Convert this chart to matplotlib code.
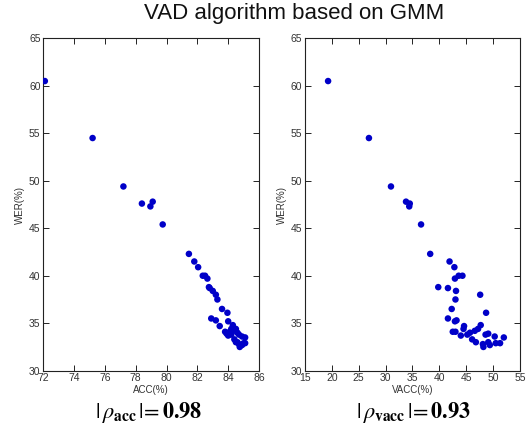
import matplotlib.pyplot as plt

# WER (%) 与两种准确率，逐点对应
wer = [60.5, 54.5, 49.4, 47.8, 47.6, 47.3, 45.4, 42.3, 41.5, 40.9,
       40.0, 40.0, 39.7, 38.8, 38.7, 38.4, 38.0, 37.5, 36.5, 36.1,
       35.5, 35.3, 35.2, 34.8, 34.7, 34.4, 34.4, 34.2, 34.1, 34.1,
       34.0, 33.9, 33.8, 33.8, 33.7, 33.6, 33.5, 33.3, 33.0, 33.0,
       32.9, 32.9, 32.8, 32.7, 32.5]
acc = [72.1, 75.2, 77.2, 79.1, 78.4, 78.95, 79.75, 81.45, 81.8, 82.05,
       82.35, 82.5, 82.65, 82.75, 82.8, 83.0, 83.2, 83.3, 83.6, 83.95,
       82.9, 83.2, 84.0, 84.3, 83.45, 84.2, 84.5, 84.35, 83.8, 84.1,
       84.6, 83.9, 84.2, 84.7, 84.0, 84.9, 85.1, 84.4, 84.5, 84.6,
       85.0, 85.1, 84.7, 84.9, 84.75]
vacc = [19.3, 26.9, 31.0, 33.8, 34.5, 34.4, 36.6, 38.3, 41.9, 42.8,
        43.6, 44.3, 42.9, 39.8, 41.6, 43.1, 47.6, 43.0, 42.3, 48.7,
        41.6, 43.2, 42.9, 47.7, 44.6, 44.5, 47.2, 46.6, 42.5, 43.0,
        45.7, 49.1, 45.2, 48.6, 44.0, 50.3, 52.0, 46.1, 46.8, 49.1,
        50.5, 51.3, 48.1, 49.4, 48.2]

acc_ticks = [72, 74, 76, 78, 80, 82, 84, 86]
vacc_ticks = [15, 20, 25, 30, 35, 40, 45, 50, 55]
wer_ticks = [30, 35, 40, 45, 50, 55, 60, 65]

plt.rcParams['font.family'] = ['Liberation Sans', 'DejaVu Sans']
plt.rcParams['mathtext.fontset'] = 'stix'

fig = plt.figure(figsize=(5.26, 4.32), dpi=100)
ax1 = fig.add_axes([0.0823, 0.1419, 0.4101, 0.7694])
ax2 = fig.add_axes([0.5798, 0.1419, 0.4087, 0.7694])

for ax, x, xt, xlab in [(ax1, acc, acc_ticks, 'ACC(%)'),
                        (ax2, vacc, vacc_ticks, 'VACC(%)')]:
    ax.scatter(x, wer, s=22, color='#0000c8', edgecolors='none', zorder=3)
    ax.set_xlim(xt[0], xt[-1])
    ax.set_ylim(30, 65)
    ax.set_xticks(xt)
    ax.set_yticks(wer_ticks)
    ax.tick_params(direction='in', top=True, right=True, length=4,
                   width=0.6, labelsize=7.5, labelcolor='#333333', pad=2)
    for sp in ax.spines.values():
        sp.set_linewidth(0.8)
        sp.set_color('#222222')
    ax.set_xlabel(xlab, fontsize=7, color='#333333', labelpad=1)
    ax.set_ylabel('WER(%)', fontsize=7, color='#333333', labelpad=3)

fig.text(0.56, 0.968, 'VAD algorithm based on GMM', ha='center', va='center',
         fontsize=16, color='#111111')

fig.text(0.282, 0.045, r'$|\,\rho_{\mathbf{acc}}\,|\!=\mathbf{0.98}$', ha='center',
         va='center', fontsize=16)
fig.text(0.787, 0.045, r'$|\,\rho_{\mathbf{vacc}}\,|\!=\mathbf{0.93}$', ha='center',
         va='center', fontsize=16)

fig.savefig('out.png', dpi=100)
